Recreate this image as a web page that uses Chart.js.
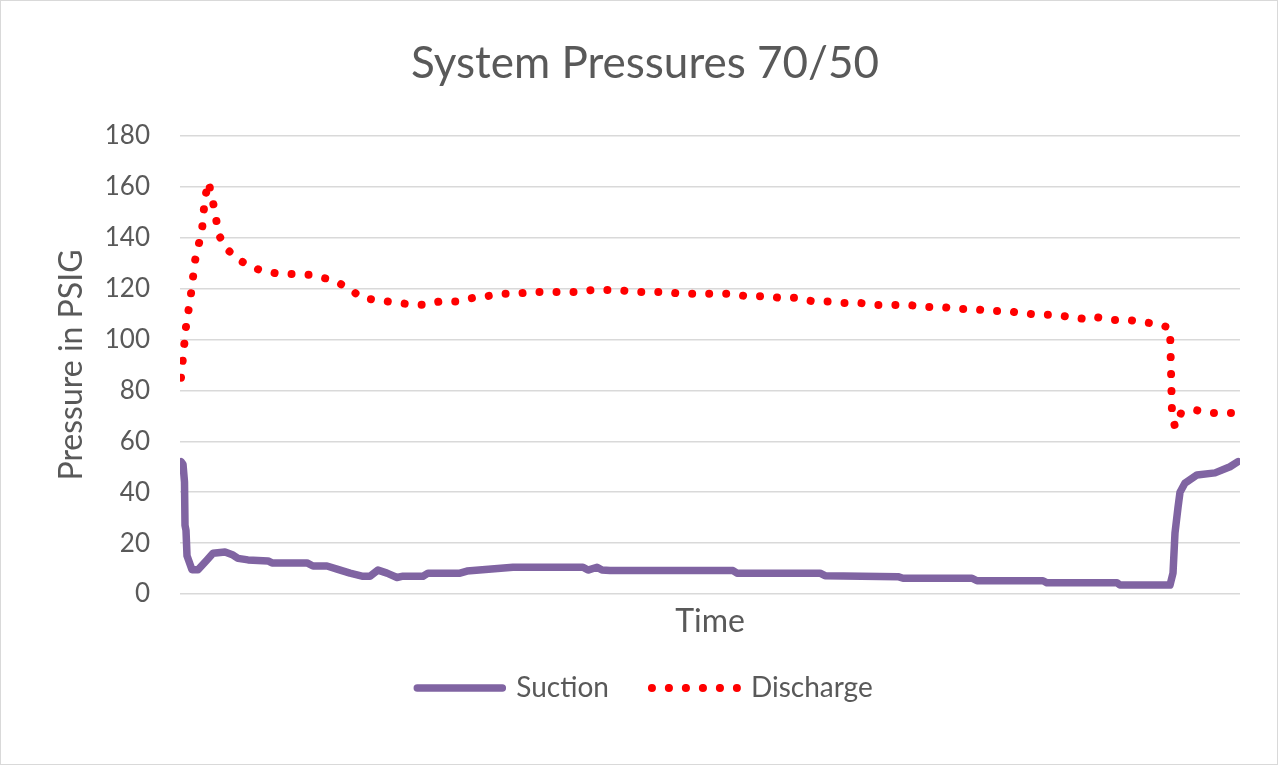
<!DOCTYPE html>
<html>
<head>
<meta charset="utf-8">
<script src="https://cdn.jsdelivr.net/npm/chart.js@4.4.1/dist/chart.umd.min.js"></script>
<style>
  html, body { margin: 0; padding: 0; background: #fff; }
  #wrap { width: 1278px; height: 765px; position: relative; }
</style>
</head>
<body>
<div id="wrap"><canvas id="pressureChart"></canvas></div>
<script>
// time axis (arbitrary sample units)
const suctionTime = [0.1, 0.3, 0.45, 0.5, 0.6, 0.7, 1.2, 1.8, 2.7, 3.3, 4.5, 5.3, 5.8, 6.8, 8.8, 9.2,
  12.7, 13.3, 14.7, 15.7, 17.0, 18.2, 19.0, 19.8, 20.7, 21.7, 22.3, 24.3, 24.8, 28.0, 28.7, 33.3,
  40.3, 40.8, 41.7, 42.2, 43.0, 55.3, 55.7, 64.0, 64.5, 71.8, 72.3, 79.2, 79.7, 86.3, 86.7, 93.7,
  94.0, 99.0, 99.3, 99.5, 99.8, 100.0, 100.5, 101.7, 103.5, 105.0, 105.8];
const suctionPsi = [52, 51, 44, 27, 25, 15, 9.5, 9.5, 13.4, 16, 16.5, 15.3, 14, 13.4, 13, 12.2,
  12.2, 11, 11, 9.8, 8.2, 7, 7, 9.4, 8.2, 6.5, 7, 7, 8.2, 8.2, 9, 10.5,
  10.5, 9.4, 10.5, 9.4, 9.2, 9.2, 8.2, 8.2, 7.2, 6.8, 6.2, 6.2, 5.2, 5.2, 4.4, 4.4,
  3.5, 3.5, 8.2, 24, 34, 40, 43.6, 46.8, 47.6, 50, 52];

const dischargeTime = [0.1, 0.3, 0.6, 1.1, 1.5, 2.2, 2.5, 2.9, 3.0, 3.3, 3.9, 4.6, 5.6, 6.9, 8.2, 9.7,
  13.0, 14.6, 16.0, 17.1, 18.2, 19.7, 21.1, 22.7, 24.4, 26.0, 27.7, 29.3, 30.6, 32.1, 33.7, 35.2,
  39.8, 41.2, 43.9, 45.4, 48.8, 50.0, 55.1, 56.7, 58.4, 60.0, 61.7, 63.3, 65.0, 66.3, 68.0, 69.5,
  72.9, 74.5, 76.2, 77.7, 79.4, 81.0, 82.7, 84.3, 85.8, 87.5, 89.0, 90.6, 91.5, 93.1, 94.8, 96.3,
  97.8, 99.0, 99.2, 99.5, 100.1, 101.7, 102.9, 105.8];
const dischargePsi = [85, 93, 105, 118, 131, 143, 156, 162, 159, 154, 141, 136, 132, 129, 127, 126,
  125.4, 124, 122, 119.5, 116.4, 115.5, 114.8, 114, 113.6, 115, 115, 116.4, 117, 118, 118, 118.7,
  118.7, 119.5, 119.5, 118.7, 118.7, 118, 118, 117, 117, 116.4, 116.4, 115, 115, 114.4, 114.4, 113.6,
  113.6, 112.8, 112.8, 112, 112, 111.2, 111.2, 110.4, 109.7, 109.7, 108.9, 108, 108.9, 107.7, 107.7, 106.9,
  106, 104.6, 71.1, 65.6, 71.1, 72.2, 71.1, 71.1];

const timeRange = [0, 106];
const psiRange = [0, 180];
const psiStep = 20;

const textColor = '#595959';
const gridColor = '#d9d9d9';
const fontFamily = 'Lato, "Open Sans", sans-serif';

const toPoints = (xs, ys) => xs.map((x, i) => ({ x, y: ys[i] }));

// white background + thin frame like the Excel chart area
const chartFrame = {
  id: 'chartFrame',
  beforeDraw(chart) {
    const { ctx, width, height } = chart;
    ctx.save();
    ctx.fillStyle = '#fff';
    ctx.fillRect(0, 0, width, height);
    ctx.strokeStyle = gridColor;
    ctx.lineWidth = 1;
    ctx.strokeRect(0.5, 0.5, width - 1, height - 1);
    ctx.restore();
  }
};

const ctx = document.getElementById('pressureChart').getContext('2d');

new Chart(ctx, {
  type: 'line',
  data: {
    datasets: [{
      label: 'Suction',
      data: toPoints(suctionTime, suctionPsi),
      borderColor: '#8064a2',
      backgroundColor: '#8064a2',
      borderWidth: 7.5,
      borderCapStyle: 'round',
      borderJoinStyle: 'round',
      pointRadius: 0,
      tension: 0,
      fill: false
    }, {
      label: 'Discharge',
      data: toPoints(dischargeTime, dischargePsi),
      borderColor: '#ff0000',
      backgroundColor: '#ff0000',
      borderWidth: 8,
      borderDash: [0.01, 17],
      borderCapStyle: 'round',
      borderJoinStyle: 'round',
      pointRadius: 0,
      tension: 0,
      fill: false
    }]
  },
  options: {
    responsive: true,
    maintainAspectRatio: false,
    animation: false,
    layout: { padding: { left: 50, right: 38, top: 0, bottom: 53 } },
    plugins: {
      tooltip: { enabled: false },
      title: {
        display: true,
        text: 'System Pressures 70/50',
        color: textColor,
        font: { family: fontFamily, size: 44, weight: 'normal', lineHeight: 1.2 },
        padding: { top: 37.6, bottom: 45.6 }
      },
      legend: {
        position: 'bottom',
        labels: {
          color: textColor,
          font: { family: fontFamily, size: 28 },
          boxWidth: 85,
          boxHeight: 0,
          padding: 43
        }
      }
    },
    scales: {
      x: {
        type: 'linear',
        min: timeRange[0],
        max: timeRange[1],
        grid: { display: false },
        border: { display: false },
        ticks: { display: false },
        title: {
          display: true,
          text: 'Time',
          color: textColor,
          font: { family: fontFamily, size: 32, lineHeight: 0.6 },
          padding: { top: 9.8, bottom: 0 }
        }
      },
      y: {
        min: psiRange[0],
        max: psiRange[1],
        afterFit: (scale) => { scale.width = 130; },
        grid: { color: gridColor, lineWidth: 1.5, drawTicks: false },
        border: { display: false },
        ticks: {
          stepSize: psiStep,
          padding: 30,
          color: textColor,
          font: { family: fontFamily, size: 26 }
        },
        title: {
          display: true,
          text: 'Pressure in PSIG',
          color: textColor,
          font: { family: fontFamily, size: 32, lineHeight: 1 },
          padding: { top: 6, bottom: 0 }
        }
      }
    }
  },
  plugins: [chartFrame]
});
</script>
</body>
</html>
